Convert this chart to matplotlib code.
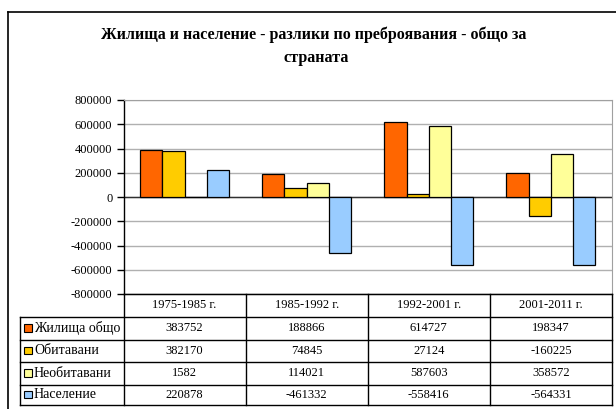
import matplotlib
matplotlib.use("Agg")
import matplotlib.pyplot as plt
from matplotlib.lines import Line2D
from matplotlib.patches import Rectangle
import numpy as np

plt.rcParams['font.family'] = ['Liberation Serif', 'DejaVu Serif']

# Data
categories = ['1975-1985 г.', '1985-1992 г.', '1992-2001 г.', '2001-2011 г.']
series_names = ['Жилища общо', 'Обитавани', 'Необитавани', 'Население']
housing_total = [383752, 188866, 614727, 198347]
occupied = [382170, 74845, 27124, -160225]
unoccupied = [1582, 114021, 587603, 358572]
population = [220878, -461332, -558416, -564331]
series_values = [housing_total, occupied, unoccupied, population]
colors = ['#FF6600', '#FFCC00', '#FFFF99', '#99CCFF']
yticks = np.arange(-800000, 800001, 200000)

W, H = 616, 409
fig = plt.figure(figsize=(W / 100, H / 100), dpi=100)


def fx(x):
    return x / W


def fy(y):
    return 1 - y / H


# plot area in pixels
left, right, top, bottom = 123.5, 612, 100, 294
ax = fig.add_axes([fx(left), fy(bottom), fx(right) - fx(left), fy(top) - fy(bottom)])

n = len(categories)
w = 0.182
x = np.arange(n) + 0.5
for k, vals in enumerate(series_values):
    ax.bar(x + (k - 1.5) * w, vals, width=w, color=colors[k],
           edgecolor='black', linewidth=0.9, zorder=3)

ax.set_xlim(0, n)
ax.set_ylim(-800000, 800000)
ax.set_yticks(yticks)
ax.set_yticklabels([str(v) for v in yticks], fontsize=9)
ax.set_xticks([])
ax.grid(axis='y', color='#b0b0b0', linewidth=1.0, zorder=0)
ax.axhline(0, color='#303030', linewidth=1.0, zorder=2)
ax.tick_params(axis='y', length=5, width=1, pad=3, colors='black')
for s in ['top', 'right']:
    ax.spines[s].set_color('#a0a0a0')
ax.spines['left'].set_color('black')
ax.spines['bottom'].set_color('black')
ax.spines['left'].set_linewidth(1.0)

# title, two lines as in the original
fig.text(fx(314), fy(35), 'Жилища и население - разлики по преброявания - общо за',
         ha='center', va='center', fontsize=11.5, fontweight='bold')
fig.text(fx(316), fy(58), 'страната',
         ha='center', va='center', fontsize=11.5, fontweight='bold')

# Data table under the chart
col_x = [left + i * (right - left) / n for i in range(n + 1)]
row_y = [294, 317, 339.5, 362, 384.5, 405]
tbl_left = 20
line_kw = dict(color='black', linewidth=1.0)

# horizontal lines
for j, yy in enumerate(row_y):
    x0 = col_x[0] if j == 0 else tbl_left
    fig.add_artist(Line2D([fx(x0), fx(right)], [fy(yy), fy(yy)], **line_kw))
# vertical lines
fig.add_artist(Line2D([fx(tbl_left), fx(tbl_left)], [fy(row_y[1]), fy(row_y[-1])], **line_kw))
for cx in col_x:
    fig.add_artist(Line2D([fx(cx), fx(cx)], [fy(row_y[0]), fy(row_y[-1])], **line_kw))

# header
for i, cat in enumerate(categories):
    cx = (col_x[i] + col_x[i + 1]) / 2
    cy = (row_y[0] + row_y[1]) / 2
    fig.text(fx(cx), fy(cy), cat, ha='center', va='center', fontsize=9)

# rows
for k, name in enumerate(series_names):
    cy = (row_y[k + 1] + row_y[k + 2]) / 2
    fig.add_artist(Rectangle((fx(24), fy(cy + 3.5)), fx(7.5), 7.5 / H,
                             facecolor=colors[k], edgecolor='black', linewidth=0.8))
    fig.text(fx(34), fy(cy), name, ha='left', va='center', fontsize=10)
    for i, v in enumerate(series_values[k]):
        cx = (col_x[i] + col_x[i + 1]) / 2
        fig.text(fx(cx), fy(cy), str(v), ha='center', va='center', fontsize=9)

# outer chart border (cut by the image edge)
fig.add_artist(Line2D([fx(8), fx(8)], [fy(12), 0], color='black', linewidth=1.2))
fig.add_artist(Line2D([fx(8), 1], [fy(12), fy(12)], color='black', linewidth=1.2))

fig.savefig('out.png', dpi=100)
